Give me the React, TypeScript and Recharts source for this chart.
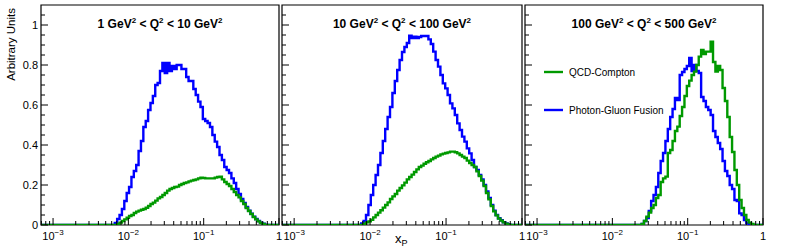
import React from 'react';
import { LineChart, Line, XAxis, YAxis, ReferenceArea } from 'recharts';

// Histogram binning (log10 x from LOG_MIN to 0)
const LOG_MIN = -3.16;
const N_BINS = 100;

// Panel titles
const PANEL_TITLES = [
  ['1 GeV', '2', ' < Q', '2', ' < 10 GeV', '2'],
  ['10 GeV', '2', ' < Q', '2', ' < 100 GeV', '2'],
  ['100 GeV', '2', ' < Q', '2', ' < 500 GeV', '2'],
];

const SERIES_NAMES = ['QCD-Compton', 'Photon-Gluon Fusion'];

// Photon-Gluon Fusion (blue) and QCD-Compton (green), per bin
const pgf1 = [
  0, 0, 0, 0, 0, 0, 0, 0, 0, 0,
  0, 0, 0, 0, 0, 0, 0, 0, 0, 0,
  0, 0, 0, 0, 0, 0, 0, 0, 0, 0,
  0, 0.01, 0.03, 0.05, 0.08, 0.12, 0.16, 0.19, 0.24, 0.27,
  0.30, 0.37, 0.42, 0.49, 0.52, 0.575, 0.61, 0.645, 0.70, 0.71,
  0.77, 0.81, 0.76, 0.81, 0.77, 0.795, 0.78, 0.80, 0.80, 0.78,
  0.78, 0.74, 0.72, 0.72, 0.68, 0.65, 0.617, 0.59, 0.53, 0.52,
  0.51, 0.49, 0.45, 0.417, 0.39, 0.35, 0.325, 0.29, 0.275, 0.26,
  0.233, 0.21, 0.18, 0.155, 0.13, 0.11, 0.09, 0.072, 0.056, 0.042,
  0.03, 0.02, 0.012, 0.006, 0.002, 0, 0, 0, 0, 0,
];
const qcdc1 = [
  0, 0, 0, 0, 0, 0, 0, 0, 0, 0,
  0, 0, 0, 0, 0, 0, 0, 0, 0, 0,
  0, 0, 0, 0, 0, 0, 0, 0, 0, 0,
  0, 0, 0.005, 0.012, 0.02, 0.028, 0.036, 0.045, 0.05, 0.06,
  0.067, 0.072, 0.076, 0.08, 0.086, 0.095, 0.105, 0.112, 0.122, 0.133,
  0.14, 0.15, 0.16, 0.172, 0.18, 0.185, 0.19, 0.192, 0.2, 0.205,
  0.21, 0.213, 0.218, 0.222, 0.225, 0.228, 0.233, 0.237, 0.235, 0.233,
  0.233, 0.233, 0.233, 0.237, 0.24, 0.242, 0.228, 0.215, 0.205, 0.195,
  0.18, 0.165, 0.15, 0.138, 0.12, 0.105, 0.085, 0.07, 0.055, 0.04,
  0.028, 0.018, 0.01, 0.005, 0, 0, 0, 0, 0, 0,
];
const pgf2 = [
  0, 0, 0, 0, 0, 0, 0, 0, 0, 0,
  0, 0, 0, 0, 0, 0, 0, 0, 0, 0,
  0, 0, 0, 0, 0, 0, 0, 0, 0, 0,
  0, 0, 0, 0.008, 0.02, 0.05, 0.1, 0.15, 0.2, 0.25,
  0.3, 0.36, 0.42, 0.48, 0.54, 0.59, 0.66, 0.72, 0.775, 0.825,
  0.865, 0.89, 0.91, 0.947, 0.935, 0.942, 0.935, 0.94, 0.945, 0.945,
  0.945, 0.928, 0.905, 0.867, 0.825, 0.792, 0.75, 0.708, 0.683, 0.65,
  0.608, 0.583, 0.55, 0.508, 0.475, 0.442, 0.417, 0.383, 0.358, 0.325,
  0.29, 0.275, 0.25, 0.228, 0.2, 0.168, 0.135, 0.1, 0.072, 0.05,
  0.034, 0.024, 0.014, 0.008, 0.004, 0, 0, 0, 0, 0,
];
const qcdc2 = [
  0, 0, 0, 0, 0, 0, 0, 0, 0, 0,
  0, 0, 0, 0, 0, 0, 0, 0, 0, 0,
  0, 0, 0, 0, 0, 0, 0, 0, 0, 0,
  0, 0, 0, 0, 0.006, 0.013, 0.018, 0.026, 0.038, 0.05,
  0.062, 0.074, 0.087, 0.1, 0.113, 0.13, 0.143, 0.155, 0.172, 0.185,
  0.198, 0.212, 0.228, 0.24, 0.252, 0.265, 0.278, 0.29, 0.297, 0.306,
  0.314, 0.32, 0.328, 0.335, 0.342, 0.347, 0.353, 0.357, 0.36, 0.363,
  0.367, 0.367, 0.364, 0.358, 0.35, 0.342, 0.335, 0.322, 0.31, 0.3,
  0.29, 0.268, 0.245, 0.222, 0.195, 0.16, 0.128, 0.095, 0.068, 0.048,
  0.032, 0.022, 0.013, 0.007, 0.003, 0, 0, 0, 0, 0,
];
const pgf3 = [
  0, 0, 0, 0, 0, 0, 0, 0, 0, 0,
  0, 0, 0, 0, 0, 0, 0, 0, 0, 0,
  0, 0, 0, 0, 0, 0, 0, 0, 0, 0,
  0, 0, 0, 0, 0, 0, 0, 0, 0, 0,
  0, 0, 0, 0, 0, 0, 0, 0, 0, 0.005,
  0.02, 0.035, 0.07, 0.12, 0.15, 0.19, 0.26, 0.32, 0.36, 0.42,
  0.48, 0.54, 0.58, 0.635, 0.625, 0.75, 0.765, 0.78, 0.795, 0.835,
  0.77, 0.80, 0.77, 0.76, 0.64, 0.62, 0.59, 0.575, 0.55, 0.47,
  0.44, 0.41, 0.38, 0.32, 0.27, 0.245, 0.2, 0.18, 0.125, 0.12,
  0.058, 0.05, 0.025, 0.008, 0, 0, 0, 0, 0, 0,
];
const qcdc3 = [
  0, 0, 0, 0, 0, 0, 0, 0, 0, 0,
  0, 0, 0, 0, 0, 0, 0, 0, 0, 0,
  0, 0, 0, 0, 0, 0, 0, 0, 0, 0,
  0, 0, 0, 0, 0, 0, 0, 0, 0, 0,
  0, 0, 0, 0, 0, 0, 0, 0, 0, 0.005,
  0.02, 0.042, 0.062, 0.085, 0.1, 0.135, 0.15, 0.215, 0.233, 0.242,
  0.36, 0.375, 0.42, 0.47, 0.492, 0.545, 0.59, 0.645, 0.695, 0.722,
  0.75, 0.767, 0.80, 0.842, 0.875, 0.855, 0.867, 0.867, 0.917, 0.815,
  0.767, 0.795, 0.775, 0.685, 0.62, 0.54, 0.44, 0.365, 0.275, 0.2,
  0.125, 0.085, 0.05, 0.025, 0.012, 0.005, 0, 0, 0, 0,
];

// Axis ticks
const X_MAJOR = [0.001, 0.01, 0.1, 1];
const X_MAJOR_EXP = ['\u22123', '\u22122', '\u22121', ''];
const X_MINOR = [
  0.0007, 0.0008, 0.0009,
  0.002, 0.003, 0.004, 0.005, 0.006, 0.007, 0.008, 0.009,
  0.02, 0.03, 0.04, 0.05, 0.06, 0.07, 0.08, 0.09,
  0.2, 0.3, 0.4, 0.5, 0.6, 0.7, 0.8, 0.9,
];
const Y_MAJOR = [0, 0.2, 0.4, 0.6, 0.8, 1];
const Y_MAJOR_LABELS = ['0', '0.2', '0.4', '0.6', '0.8', '1'];
const Y_MINOR = [0.05, 0.1, 0.15, 0.25, 0.3, 0.35, 0.45, 0.5, 0.55, 0.65, 0.7, 0.75, 0.85, 0.9, 0.95, 1.05];

const BLUE = '#0000ff';
const GREEN = '#009900';
const FONT = '"Liberation Sans", Arial, Helvetica, sans-serif';

const X_MIN = Math.pow(10, LOG_MIN);
const Y_MAX = 1.1;
const Y_AXIS_W = 41;
const X_AXIS_H = 27;

const PANELS = [
  { left: 41, right: 279, blue: pgf1, green: qcdc1 },
  { left: 282, right: 522, blue: pgf2, green: qcdc2 },
  { left: 525, right: 763, blue: pgf3, green: qcdc3 },
];

const buildData = (blue: number[], green: number[]) => {
  const rows: { x: number; blue: number; green: number }[] = [];
  for (let i = 0; i < N_BINS; i++) {
    rows.push({ x: Math.pow(10, LOG_MIN + (i * -LOG_MIN) / N_BINS), blue: blue[i], green: green[i] });
  }
  rows.push({ x: 1, blue: blue[N_BINS - 1], green: green[N_BINS - 1] });
  return rows;
};

const XTick = (props: any) => {
  const { x, y, payload } = props;
  const idx = X_MAJOR.indexOf(payload.value);
  const major = idx >= 0;
  return (
    <g>
      <line x1={x} x2={x} y1={y} y2={y - (major ? 7 : 4)} stroke="#000" strokeWidth={1} />
      {major && (
        <text x={x} y={y + 15} textAnchor="middle" fontFamily={FONT} fontSize={11} fill="#000">
          {X_MAJOR_EXP[idx] === '' ? '1' : '10'}
          {X_MAJOR_EXP[idx] !== '' && (
            <tspan dy={-5} fontSize={8}>{X_MAJOR_EXP[idx]}</tspan>
          )}
        </text>
      )}
    </g>
  );
};

const makeYTick = (showLabels: boolean) => (props: any) => {
  const { x, y, payload } = props;
  const idx = Y_MAJOR.indexOf(payload.value);
  const major = idx >= 0;
  return (
    <g>
      <line x1={x} x2={x + (major ? 7 : 4)} y1={y} y2={y} stroke="#000" strokeWidth={1} />
      {showLabels && major && (
        <text x={x - 3} y={y + 4} textAnchor="end" fontFamily={FONT} fontSize={11} fill="#000">
          {Y_MAJOR_LABELS[idx]}
        </text>
      )}
    </g>
  );
};

const Panel = ({ p, idx }: { p: any; idx: number }) => {
  const data = buildData(p.blue, p.green);
  return (
    <div style={{ position: 'absolute', left: 0, top: 0 }}>
      <LineChart
        width={789}
        height={252}
        data={data}
        margin={{ top: 5, bottom: 252 - 225 - X_AXIS_H, left: p.left - Y_AXIS_W, right: 789 - p.right }}
      >
        <XAxis
          dataKey="x"
          type="number"
          scale="log"
          domain={[X_MIN, 1]}
          allowDataOverflow
          ticks={[...X_MINOR, ...X_MAJOR]}
          interval={0}
          tick={XTick}
          tickLine={false}
          axisLine={false}
          tickSize={0}
          tickMargin={0}
          height={X_AXIS_H}
        />
        <YAxis
          type="number"
          domain={[0, Y_MAX]}
          allowDataOverflow
          ticks={[...Y_MINOR, ...Y_MAJOR]}
          interval={0}
          tick={makeYTick(idx === 0)}
          tickLine={false}
          axisLine={false}
          tickSize={0}
          tickMargin={0}
          width={Y_AXIS_W}
        />
        <Line
          type="stepAfter"
          dataKey="blue"
          stroke={BLUE}
          strokeWidth={2.4}
          dot={false}
          isAnimationActive={false}
        />
        <Line
          type="stepAfter"
          dataKey="green"
          stroke={GREEN}
          strokeWidth={2.4}
          dot={false}
          isAnimationActive={false}
        />
        <ReferenceArea
          x1={X_MIN}
          x2={1}
          y1={0}
          y2={Y_MAX}
          fill="none"
          fillOpacity={0}
          stroke="#000"
          strokeWidth={1.2}
          ifOverflow="visible"
        />
      </LineChart>
    </div>
  );
};

const Title = ({ parts, cx }: { parts: string[]; cx: number }) => (
  <text x={cx} y={28} textAnchor="middle" fontFamily={FONT} fontSize={12} fontWeight="bold" fill="#000">
    {parts.map((s, i) =>
      i % 2 === 1 ? (
        <tspan key={i} fontSize={8} dy={-5}>{s}</tspan>
      ) : (
        <tspan key={i} dy={i === 0 ? 0 : 5}>{s}</tspan>
      )
    )}
  </text>
);

export default function App() {
  return (
    <div style={{ position: 'absolute', left: 0, top: 0, width: 789, height: 252, background: '#fff', overflow: 'hidden' }}>
      {PANELS.map((p, i) => (
        <Panel key={i} p={p} idx={i} />
      ))}
      <svg width={789} height={252} style={{ position: 'absolute', left: 0, top: 0, pointerEvents: 'none' }}>
        {PANELS.map((p, i) => (
          <Title key={i} parts={PANEL_TITLES[i]} cx={(p.left + p.right) / 2} />
        ))}
        <text
          transform="translate(15, 8) rotate(-90)"
          textAnchor="end"
          fontFamily={FONT}
          fontSize={11.5}
          fill="#000"
        >
          Arbitrary Units
        </text>
        <text x={395} y={243} fontFamily={FONT} fontSize={13} fill="#000">
          x<tspan fontSize={9} dy={3}>P</tspan>
        </text>
        <line x1={544} x2={563} y1={72} y2={72} stroke={GREEN} strokeWidth={2.4} />
        <text x={569} y={75.5} fontFamily={FONT} fontSize={10} fill="#000">{SERIES_NAMES[0]}</text>
        <line x1={544} x2={563} y1={110} y2={110} stroke={BLUE} strokeWidth={2.4} />
        <text x={569} y={113.5} fontFamily={FONT} fontSize={10} fill="#000">{SERIES_NAMES[1]}</text>
      </svg>
    </div>
  );
}
